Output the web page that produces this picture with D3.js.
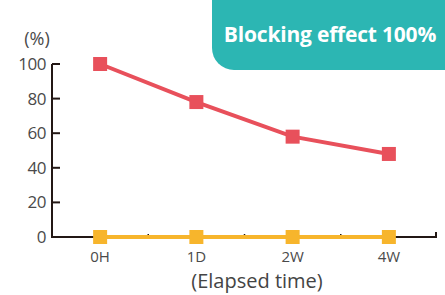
<!DOCTYPE html>
<html lang="en">
<head>
    <meta charset="UTF-8">
    <title>Blocking effect</title>
    <script src="https://d3js.org/d3.v7.min.js"></script>
    <style>
        body {
            margin: 0;
            width: 445px;
            height: 295px;
            background: white;
            font-family: "Open Sans", "Noto Sans", sans-serif;
            overflow: hidden;
        }
        .tick-label {
            fill: #4a4a4a;
        }
    </style>
</head>
<body>
    <div id="chart"></div>
    <script>
        // Chart data
        const categories = ['0H', '1D', '2W', '4W'];
        const blockedValues = [100, 78, 58, 48];
        const baselineValues = [0, 0, 0, 0];
        const yTicks = [0, 20, 40, 60, 80, 100];

        const width = 445;
        const height = 295;
        const axisColor = '#231815';

        const svg = d3.select('#chart')
            .append('svg')
            .attr('width', width)
            .attr('height', height);

        const x = d3.scaleBand()
            .domain(categories)
            .range([52, 437])
            .padding(0);

        const y = d3.scaleLinear()
            .domain([0, 100])
            .range([237, 64]);

        const cx = d => x(d) + x.bandwidth() / 2;

        // Badge in the top right
        svg.append('rect')
            .attr('x', 212)
            .attr('y', -30)
            .attr('width', 260)
            .attr('height', 100)
            .attr('rx', 22)
            .attr('fill', '#2cb6b3');

        svg.append('text')
            .attr('x', 330)
            .attr('y', 42)
            .attr('text-anchor', 'middle')
            .attr('fill', 'white')
            .attr('font-weight', 'bold')
            .attr('font-size', 21)
            .attr('letter-spacing', -0.2)
            .text('Blocking effect 100%');

        // Y axis
        svg.append('line')
            .attr('x1', 52).attr('x2', 52)
            .attr('y1', y(100)).attr('y2', y(0))
            .attr('stroke', axisColor)
            .attr('stroke-width', 2);

        svg.append('g')
            .selectAll('line')
            .data(yTicks)
            .join('line')
            .attr('x1', 52).attr('x2', 60)
            .attr('y1', d => y(d)).attr('y2', d => y(d))
            .attr('stroke', axisColor)
            .attr('stroke-width', 2);

        svg.append('g')
            .selectAll('text')
            .data(yTicks)
            .join('text')
            .attr('class', 'tick-label')
            .attr('x', 46)
            .attr('y', d => y(d) + 6)
            .attr('text-anchor', 'end')
            .attr('font-size', 17)
            .attr('letter-spacing', -0.5)
            .text(d => d);

        svg.append('text')
            .attr('class', 'tick-label')
            .attr('x', 37)
            .attr('y', 45)
            .attr('text-anchor', 'middle')
            .attr('font-size', 18)
            .text('(%)');

        // X axis
        svg.append('line')
            .attr('x1', 51).attr('x2', 437)
            .attr('y1', y(0)).attr('y2', y(0))
            .attr('stroke', axisColor)
            .attr('stroke-width', 2);

        const boundaries = categories.slice(1).map(c => x(c));
        svg.append('g')
            .selectAll('line')
            .data(boundaries)
            .join('line')
            .attr('x1', d => d).attr('x2', d => d)
            .attr('y1', y(0) - 1).attr('y2', y(0) - 3)
            .attr('stroke', axisColor)
            .attr('stroke-width', 1.5);

        svg.append('line')
            .attr('x1', 436).attr('x2', 436)
            .attr('y1', y(0)).attr('y2', y(0) - 5)
            .attr('stroke', axisColor)
            .attr('stroke-width', 2);

        svg.append('g')
            .selectAll('text')
            .data(categories)
            .join('text')
            .attr('class', 'tick-label')
            .attr('x', d => cx(d))
            .attr('y', 262)
            .attr('text-anchor', 'middle')
            .attr('font-size', 15)
            .text(d => d);

        svg.append('text')
            .attr('fill', '#444')
            .attr('x', 257)
            .attr('y', 288)
            .attr('text-anchor', 'middle')
            .attr('font-size', 20)
            .text('(Elapsed time)');

        // Series
        const series = [
            { values: baselineValues, color: '#f7b52c' },
            { values: blockedValues, color: '#e8505b' }
        ];

        const line = d3.line()
            .x((d, i) => cx(categories[i]))
            .y(d => y(d));

        series.forEach(s => {
            svg.append('path')
                .datum(s.values)
                .attr('d', line)
                .attr('fill', 'none')
                .attr('stroke', s.color)
                .attr('stroke-width', 4);

            svg.append('g')
                .selectAll('rect')
                .data(s.values)
                .join('rect')
                .attr('x', (d, i) => cx(categories[i]) - 7)
                .attr('y', d => y(d) - 7)
                .attr('width', 14)
                .attr('height', 14)
                .attr('fill', s.color);
        });
    </script>
</body>
</html>
